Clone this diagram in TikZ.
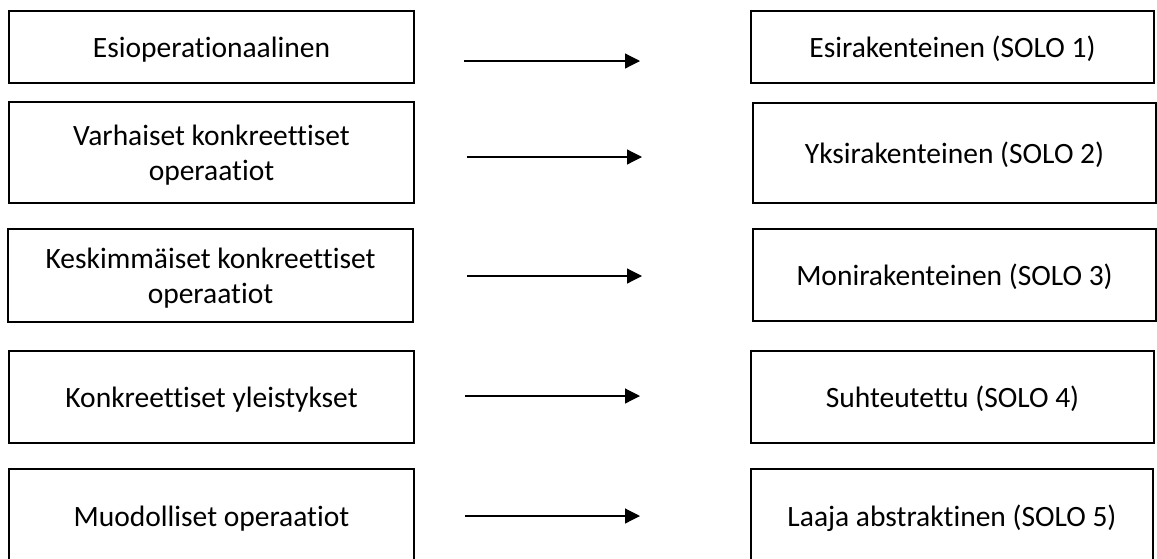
\documentclass[tikz,border=0pt]{standalone}
\usepackage{fontspec}
\setmainfont{Carlito}[Ligatures=NoCommon]
\usetikzlibrary{arrows.meta}
\tikzset{
  box/.style={draw=black, line width=2pt, rectangle, inner sep=0pt, outer sep=0pt,
    align=center, text depth=0pt, font=\fontsize{29.5}{35}\selectfont},
  arr/.style={line width=1.2pt, -{Triangle[length=15pt,width=15pt]}}
}
\newcommand{\bx}[7]{% name, x1, y1, x2, y2, text
  \node[box, minimum width={#4-#2}, minimum height={#5-#3}] (#1) at ({(#2+#4)/2},{(#3+#5)/2}) {#6#7};
}
\begin{document}
\begin{tikzpicture}[x=1pt,y=-1pt]
\clip (0,0) rectangle (1157,558);
\fill[white] (0,0) rectangle (1157,558);
\bx{L1}{9}{11}{414}{83}{Esioperationaalinen}{}
\bx{L2}{9}{102}{414}{203}{Varhaiset konkreettiset\\operaatiot}{}
\bx{L3}{8}{229}{413}{322}{Keskimmäiset konkreettiset\\operaatiot}{}
\bx{L4}{9}{351}{414}{443}{Konkreettiset yleistykset}{}
\bx{L5}{9}{469}{414}{563}{Muodolliset operaatiot}{}
\bx{R1}{751}{11}{1154}{83}{Esirakenteinen (SOLO 1)}{}
\bx{R2}{753}{103}{1156}{203}{Yksirakenteinen (SOLO 2)}{}
\bx{R3}{753}{229}{1156}{321}{Monirakenteinen (SOLO 3)}{}
\bx{R4}{751}{351}{1154}{443}{Suhteutettu (SOLO 4)}{}
\bx{R5}{751}{469}{1153}{563}{Laaja abstraktinen (SOLO 5)}{}
\coordinate (a1s) at (464,61);  \coordinate (a1e) at (640,61);
\coordinate (a2s) at (467,157); \coordinate (a2e) at (642,157);
\coordinate (a3s) at (467,276); \coordinate (a3e) at (642,276);
\coordinate (a4s) at (465,396); \coordinate (a4e) at (640,396);
\coordinate (a5s) at (465,516); \coordinate (a5e) at (640,516);
\foreach \i in {1,...,5} { \draw[arr] (a\i s) -- (a\i e); }
\end{tikzpicture}
\end{document}
